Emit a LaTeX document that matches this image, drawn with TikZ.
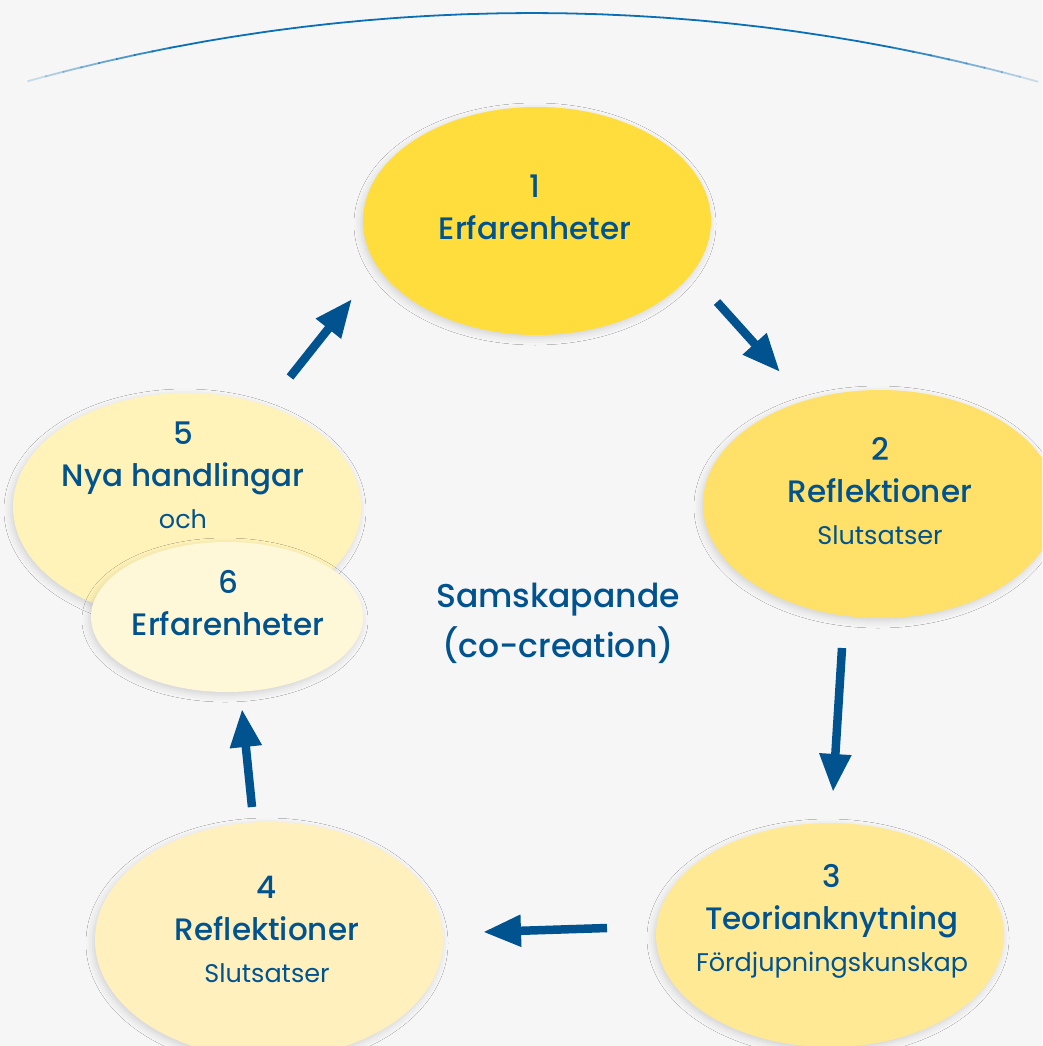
\documentclass[tikz,border=0pt]{standalone}
\usepackage{fontspec}
\setmainfont{Poppins}
\newfontfamily\medfont{Poppins Medium}
\usetikzlibrary{shapes.geometric,arrows.meta,shadows.blur}

\definecolor{bggray}{HTML}{F6F6F6}
\definecolor{arcblue}{HTML}{0A6FB5}
\definecolor{txtblue}{HTML}{00538E}
\definecolor{yellowA}{HTML}{FFDD3D}
\definecolor{yellowB}{HTML}{FFE068}
\definecolor{yellowC}{HTML}{FFE994}
\definecolor{yellowD}{HTML}{FFF0BE}
\definecolor{yellowE}{HTML}{FFF3B9}
\definecolor{yellowF}{HTML}{FFF8D8}

\newcommand\subline{\normalfont\fontsize{25.5}{41}\selectfont}

\begin{document}
\begin{tikzpicture}[x=1pt,y=-1pt,
  bubble/.style={ellipse,inner sep=0pt,minimum width=348pt,minimum height=228pt,
    blur shadow={shadow xshift=-2pt,shadow yshift=-3pt,shadow blur radius=7pt,shadow opacity=14}},
  stage/.style={text=txtblue,align=center,inner sep=0pt,font=\medfont\fontsize{31}{42}\selectfont},
  flow/.style={draw=txtblue,line width=8.5pt,-{Triangle[length=38pt,width=30pt]}}]
\useasboundingbox (0,0) rectangle (1042,1046);
\clip (0,0) rectangle (1042,1046);
\fill [bggray] (0,0) rectangle (1042,1046);
\draw [arcblue,line width=1.8pt] plot[domain=-11:11,samples=60] ({532+1900*sin(\x)},{1913-1900*cos(\x)});
\foreach \k in {0,...,7}{
  \draw [arcblue,line width=1.8pt,opacity=0.2+\k/10] plot[domain=-15.4+\k*0.55:-14.8+\k*0.55,samples=4] ({532+1900*sin(\x)},{1913-1900*cos(\x)});
  \draw [arcblue,line width=1.8pt,opacity=0.2+\k/10] plot[domain=14.85-\k*0.55:15.45-\k*0.55,samples=4] ({532+1900*sin(\x)},{1913-1900*cos(\x)});
}

\node [bubble,fill=yellowA] (e1) at (537,221) {};
\node [bubble,fill=yellowB,minimum width=354pt] (e2) at (880,504) {};
\node [bubble,fill=yellowC,minimum height=224pt] (e3) at (830,935) {};
\node [bubble,fill=yellowD,minimum height=236pt] (e4) at (269,940) {};
\node [bubble,fill=yellowE] (e5) at (187,507) {};
\node [bubble,fill=yellowF,minimum width=272pt,minimum height=150pt] (e6) at (227,617) {};

\node [stage] (t1) at (535,207) {1\\Erfarenheter};
\node [stage] (t2) at (880,491) {2\\Reflektioner\\{\subline Slutsatser}};
\node [stage] (t3) at (832,921) {3\\Teorianknytning\\{\subline Fördjupningskunskap}};
\node [stage] (t4) at (267,929) {4\\Reflektioner\\{\subline Slutsatser}};
\node [stage] (t5) at (183,475) {5\\Nya handlingar\\{\subline och}};
\node [stage] (t6) at (228,603) {6\\Erfarenheter};
\node [stage,font=\medfont\fontsize{33}{50}\selectfont] (mid) at (558,623) {Samskapande\\(co-creation)};

\coordinate (a1s) at (717,302);
\coordinate (a1e) at (780,372);
\coordinate (a2s) at (842,648);
\coordinate (a2e) at (833,792);
\coordinate (a3s) at (607,928);
\coordinate (a3e) at (483,932);
\coordinate (a4s) at (252,807);
\coordinate (a4e) at (242,709);
\coordinate (a5s) at (290,377);
\coordinate (a5e) at (352,299);
\draw [flow] (a1s) -- (a1e);
\draw [flow] (a2s) -- (a2e);
\draw [flow] (a3s) -- (a3e);
\draw [flow] (a4s) -- (a4e);
\draw [flow] (a5s) -- (a5e);
\end{tikzpicture}
\end{document}
